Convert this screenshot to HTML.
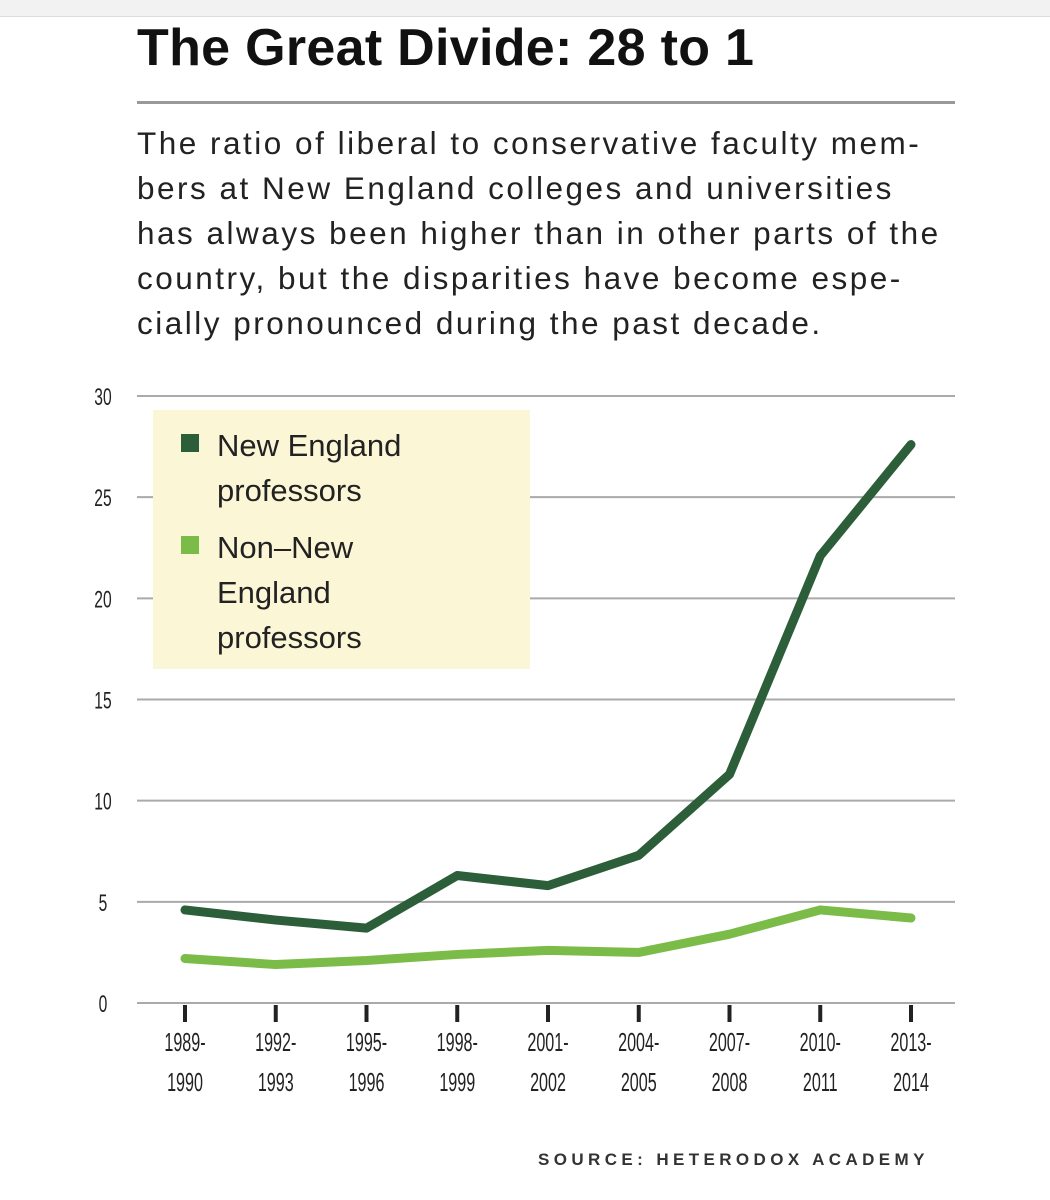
<!DOCTYPE html>
<html><head><meta charset="utf-8"><style>
body{margin:0;background:#fff;width:1050px;height:1200px;overflow:hidden;font-family:"Liberation Sans",sans-serif;}
#top{position:absolute;left:0;top:0;width:1050px;height:16px;background:#f2f2f2;border-bottom:1px solid #ddd}
h1{position:absolute;left:137px;top:18px;margin:0;font-size:52px;font-weight:bold;color:#111;letter-spacing:0.3px}
#rule{position:absolute;left:137px;top:101px;width:818px;height:3px;background:#999}
#sub{position:absolute;left:137px;top:121px;width:900px;font-size:31.5px;line-height:45px;letter-spacing:2.5px;color:#222;white-space:nowrap}
#src{position:absolute;left:538px;top:1150px;font-size:17px;letter-spacing:4.4px;color:#333;font-weight:bold}
svg{position:absolute;left:0;top:0}
</style></head><body>
<div id="top"></div>
<h1>The Great Divide: 28 to 1</h1>
<div id="rule"></div>
<div id="sub">The ratio of liberal to conservative faculty mem-<br>bers at New England colleges and universities<br>has always been higher than in other parts of the<br>country, but the disparities have become espe-<br>cially pronounced during the past decade.</div>
<svg id="chart" width="1050" height="1200"></svg>
<div id="src">SOURCE: HETERODOX ACADEMY</div>
<script>
const categories=[["1989-","1990"],["1992-","1993"],["1995-","1996"],["1998-","1999"],["2001-","2002"],["2004-","2005"],["2007-","2008"],["2010-","2011"],["2013-","2014"]];
const newEngland=[4.6,4.1,3.7,6.3,5.8,7.3,11.3,22.1,27.6];
const nonNewEngland=[2.2,1.9,2.1,2.4,2.6,2.5,3.4,4.6,4.2];
const yTicks=[0,5,10,15,20,25,30];
const NS="http://www.w3.org/2000/svg";
const svg=document.getElementById('chart');
const y=v=>1003-v*(607/30);
const x=i=>185+i*90.75;
function mk(t,a){const e=document.createElementNS(NS,t);for(const k in a)e.setAttribute(k,a[k]);svg.appendChild(e);return e;}
yTicks.forEach(v=>{
 const l=mk('line',{x1:137,x2:955,y1:y(v),y2:y(v),stroke:'#aaa','stroke-width':2});
 
 
 const t=mk('text',{x:103,y:y(v)+9,'font-size':24,fill:'#222','text-anchor':'middle',transform:`translate(103 0) scale(0.65 1) translate(-103 0)`});
 t.textContent=v;
 
 
});
categories.forEach((c,i)=>{
 const tk=mk('line',{x1:x(i),x2:x(i),y1:1005,y2:1022,stroke:'#222','stroke-width':4});
 
 
 c.forEach((s,j)=>{
  const t=mk('text',{x:x(i),y:1051+j*40,'font-size':26,fill:'#222','text-anchor':'middle',transform:`translate(${x(i)} 0) scale(0.62 1) translate(${-x(i)} 0)`});
  t.textContent=s;
  
  
 });
});
function line(data,color,name){
 const p=mk('polyline',{points:data.map((v,i)=>x(i)+','+y(v)).join(' '),fill:'none',stroke:color,'stroke-width':9,'stroke-linejoin':'round','stroke-linecap':'round'});
 
 
}
line(nonNewEngland,'#7bbb48','non-new-england-line');
line(newEngland,'#2c5e39','new-england-line');
const bg=mk('rect',{x:153,y:410,width:377,height:259,fill:'#fbf6d6'});


[[ '#2c5e39',["New England","professors"],445],['#7bbb48',["Non–New","England","professors"],547]].forEach(([col,lines,top],k)=>{
 const s=mk('rect',{x:181,y:top-11,width:18,height:18,fill:col});
 
 
 lines.forEach((tx,j)=>{
  const t=mk('text',{x:217,y:top+11+j*45,'font-size':31,fill:'#222'});
  t.textContent=tx;
  
  
 });
});
</script>
</body></html>
